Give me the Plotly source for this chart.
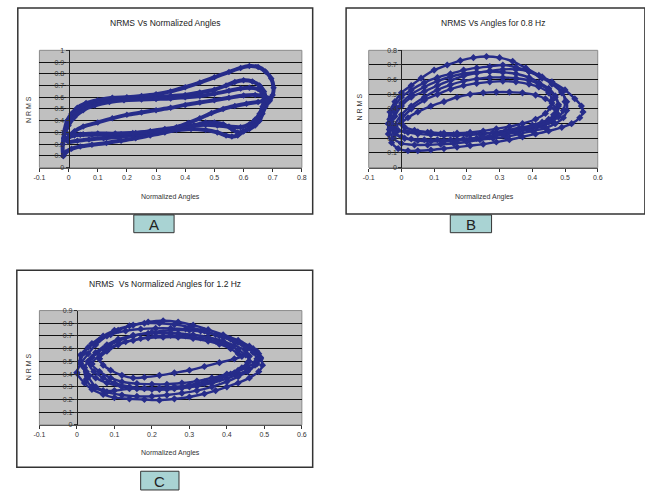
import plotly.graph_objects as go

# ---------------- data ----------------
# Panel A : NRMS vs Normalized Angles
A1_x = [-0.018,-0.02,-0.015,-0.005,0.01,0.03,0.06,0.10,0.15,0.20,0.25,0.30,0.35,0.40,0.45,0.50,0.55,0.59,0.62,0.65,0.675,0.695,0.703,0.70,0.69,0.675,0.665,0.655,0.64,0.62,0.60,0.58,0.56,0.53,0.50,0.47,0.43,0.38,0.33,0.28,0.23,0.18,0.13,0.08,0.04,0.01,-0.01,-0.018]
A1_y = [0.10,0.20,0.30,0.40,0.46,0.51,0.55,0.575,0.595,0.60,0.61,0.625,0.65,0.685,0.725,0.77,0.815,0.85,0.866,0.858,0.82,0.76,0.68,0.62,0.57,0.52,0.46,0.40,0.36,0.33,0.31,0.30,0.33,0.37,0.385,0.385,0.36,0.33,0.30,0.275,0.25,0.23,0.21,0.195,0.18,0.16,0.13,0.10]
A2_x = [-0.015,-0.01,0.0,0.02,0.05,0.09,0.14,0.19,0.25,0.30,0.35,0.40,0.45,0.50,0.54,0.57,0.60,0.63,0.655,0.67,0.675,0.67,0.66,0.645,0.625,0.60,0.58,0.56,0.54,0.51,0.47,0.42,0.37,0.32,0.27,0.22,0.17,0.12,0.07,0.03,0.0,-0.015]
A2_y = [0.25,0.33,0.40,0.46,0.51,0.545,0.57,0.585,0.59,0.60,0.61,0.62,0.64,0.665,0.70,0.73,0.745,0.735,0.70,0.65,0.59,0.53,0.46,0.40,0.35,0.31,0.275,0.265,0.275,0.30,0.32,0.33,0.32,0.31,0.29,0.275,0.26,0.25,0.24,0.23,0.22,0.25]
A3_x = [-0.01,0.0,0.02,0.05,0.09,0.14,0.19,0.25,0.30,0.35,0.40,0.45,0.50,0.55,0.59,0.62,0.65,0.665,0.67,0.665,0.655,0.64,0.62,0.59,0.55,0.51,0.47,0.43,0.38,0.33,0.28,0.23,0.18,0.13,0.08,0.04,0.01,-0.01]
A3_y = [0.30,0.36,0.43,0.49,0.53,0.56,0.575,0.58,0.585,0.59,0.60,0.61,0.63,0.655,0.675,0.68,0.67,0.63,0.58,0.52,0.46,0.41,0.37,0.345,0.35,0.36,0.365,0.36,0.345,0.33,0.31,0.295,0.285,0.28,0.28,0.28,0.285,0.30]
A4_x = [0.0,0.02,0.05,0.10,0.15,0.20,0.25,0.30,0.35,0.40,0.45,0.50,0.55,0.60,0.64,0.67,0.69,0.68,0.65,0.61,0.57,0.53,0.49,0.45,0.41,0.37,0.33,0.28,0.22,0.16,0.10,0.05,0.02,0.0]
A4_y = [0.26,0.31,0.35,0.385,0.42,0.45,0.47,0.49,0.51,0.535,0.555,0.575,0.595,0.615,0.62,0.61,0.59,0.575,0.56,0.545,0.525,0.50,0.465,0.42,0.38,0.345,0.32,0.305,0.295,0.29,0.29,0.285,0.275,0.26]

# Panel B : NRMS vs Angles for 0.8 Hz
B1_x = [-0.04,-0.035,-0.02,0.0,0.03,0.06,0.10,0.14,0.18,0.22,0.26,0.30,0.34,0.38,0.42,0.46,0.50,0.53,0.55,0.555,0.545,0.52,0.49,0.45,0.41,0.37,0.33,0.29,0.25,0.21,0.17,0.13,0.09,0.05,0.02,-0.01,-0.03,-0.04,-0.04]
B1_y = [0.30,0.38,0.45,0.51,0.56,0.61,0.665,0.70,0.73,0.75,0.758,0.75,0.725,0.68,0.63,0.585,0.53,0.47,0.42,0.38,0.34,0.30,0.275,0.25,0.23,0.21,0.19,0.175,0.16,0.15,0.14,0.13,0.12,0.115,0.115,0.13,0.17,0.23,0.30]
B2_x = [-0.035,-0.02,0.0,0.03,0.07,0.11,0.15,0.19,0.23,0.27,0.31,0.35,0.39,0.43,0.46,0.49,0.505,0.505,0.495,0.47,0.44,0.40,0.36,0.32,0.28,0.24,0.20,0.16,0.12,0.08,0.04,0.0,-0.025,-0.037,-0.035]
B2_y = [0.33,0.42,0.48,0.53,0.58,0.615,0.64,0.665,0.68,0.69,0.70,0.685,0.655,0.61,0.57,0.51,0.45,0.39,0.34,0.30,0.27,0.25,0.23,0.21,0.20,0.19,0.175,0.165,0.16,0.155,0.155,0.165,0.20,0.26,0.33]
B3_x = [-0.03,-0.02,0.0,0.03,0.07,0.11,0.15,0.19,0.23,0.27,0.31,0.35,0.39,0.42,0.45,0.47,0.48,0.475,0.46,0.43,0.39,0.35,0.31,0.27,0.23,0.19,0.15,0.11,0.07,0.03,0.0,-0.02,-0.03]
B3_y = [0.30,0.38,0.44,0.50,0.55,0.59,0.62,0.64,0.65,0.655,0.65,0.64,0.615,0.58,0.54,0.49,0.43,0.37,0.32,0.28,0.26,0.24,0.225,0.21,0.20,0.195,0.19,0.19,0.19,0.195,0.21,0.24,0.30]
B4_x = [-0.02,0.0,0.03,0.07,0.11,0.15,0.19,0.23,0.27,0.31,0.35,0.39,0.42,0.45,0.47,0.48,0.475,0.46,0.44,0.41,0.37,0.33,0.29,0.25,0.21,0.17,0.13,0.09,0.05,0.02,-0.01,-0.02]
B4_y = [0.28,0.36,0.42,0.48,0.53,0.565,0.59,0.605,0.615,0.615,0.61,0.595,0.57,0.53,0.48,0.42,0.37,0.33,0.30,0.28,0.265,0.25,0.24,0.23,0.225,0.22,0.22,0.225,0.23,0.24,0.255,0.28]
B5_x = [0.0,0.02,0.05,0.09,0.13,0.17,0.21,0.25,0.29,0.33,0.37,0.41,0.44,0.46,0.47,0.465,0.45,0.43,0.40,0.36,0.32,0.28,0.24,0.20,0.16,0.12,0.08,0.04,0.01,0.0]
B5_y = [0.30,0.34,0.38,0.42,0.45,0.48,0.50,0.51,0.515,0.515,0.51,0.495,0.47,0.44,0.40,0.36,0.33,0.31,0.29,0.27,0.255,0.24,0.23,0.225,0.225,0.23,0.24,0.255,0.275,0.30]
B6_x = [-0.03,-0.02,0.0,0.03,0.07,0.11,0.15,0.19,0.23,0.27,0.31,0.35,0.39,0.43,0.46,0.49,0.50,0.495,0.48,0.45,0.41,0.37,0.33,0.29,0.25,0.21,0.17,0.13,0.09,0.05,0.01,-0.02,-0.03]
B6_y = [0.27,0.35,0.42,0.48,0.52,0.56,0.595,0.625,0.645,0.66,0.67,0.67,0.655,0.62,0.58,0.52,0.45,0.39,0.345,0.31,0.285,0.265,0.245,0.225,0.21,0.195,0.185,0.18,0.18,0.185,0.20,0.23,0.27]
B7_x = [-0.02,0.0,0.03,0.07,0.11,0.15,0.19,0.23,0.27,0.31,0.35,0.39,0.42,0.45,0.46,0.455,0.44,0.41,0.37,0.33,0.29,0.25,0.21,0.17,0.13,0.09,0.05,0.01,-0.02]
B7_y = [0.25,0.33,0.40,0.46,0.50,0.535,0.56,0.575,0.585,0.59,0.585,0.57,0.55,0.51,0.46,0.41,0.37,0.33,0.30,0.28,0.265,0.25,0.24,0.235,0.235,0.24,0.245,0.25,0.25]

# Panel C : NRMS vs Normalized Angles for 1.2 Hz
C1_x = [0.0,0.01,0.03,0.05,0.08,0.11,0.15,0.19,0.23,0.27,0.31,0.35,0.39,0.43,0.46,0.48,0.49,0.495,0.485,0.46,0.43,0.40,0.37,0.34,0.30,0.26,0.22,0.18,0.14,0.10,0.07,0.04,0.02,0.0]
C1_y = [0.41,0.48,0.56,0.63,0.70,0.745,0.785,0.81,0.82,0.81,0.785,0.75,0.71,0.665,0.62,0.58,0.53,0.47,0.42,0.37,0.33,0.30,0.27,0.245,0.22,0.205,0.195,0.20,0.205,0.215,0.24,0.28,0.33,0.41]
C2_x = [0.01,0.03,0.06,0.09,0.13,0.17,0.21,0.25,0.29,0.33,0.37,0.41,0.44,0.47,0.485,0.49,0.48,0.46,0.43,0.40,0.36,0.32,0.28,0.24,0.20,0.16,0.12,0.08,0.05,0.025,0.01,0.01]
C2_y = [0.55,0.61,0.67,0.71,0.74,0.755,0.76,0.76,0.755,0.74,0.71,0.675,0.64,0.60,0.56,0.52,0.48,0.44,0.40,0.365,0.33,0.305,0.29,0.28,0.28,0.285,0.30,0.33,0.37,0.42,0.48,0.55]
C3_x = [0.03,0.05,0.08,0.11,0.15,0.19,0.23,0.27,0.31,0.35,0.39,0.42,0.45,0.46,0.455,0.44,0.41,0.38,0.34,0.30,0.26,0.22,0.18,0.14,0.10,0.07,0.045,0.03]
C3_y = [0.50,0.57,0.63,0.675,0.705,0.72,0.725,0.72,0.71,0.69,0.66,0.625,0.585,0.54,0.49,0.45,0.40,0.36,0.325,0.30,0.285,0.28,0.285,0.30,0.33,0.37,0.42,0.50]
C4_x = [0.06,0.08,0.11,0.15,0.19,0.23,0.27,0.31,0.35,0.38,0.41,0.43,0.44,0.42,0.38,0.34,0.30,0.26,0.22,0.18,0.15,0.12,0.09,0.07,0.06]
C4_y = [0.52,0.58,0.63,0.665,0.685,0.69,0.69,0.68,0.66,0.635,0.60,0.56,0.54,0.52,0.49,0.46,0.43,0.41,0.39,0.375,0.37,0.39,0.43,0.47,0.52]
C5_x = [0.02,0.04,0.07,0.11,0.15,0.20,0.25,0.30,0.35,0.39,0.43,0.46,0.48,0.485,0.475,0.45,0.42,0.38,0.34,0.30,0.26,0.22,0.18,0.14,0.10,0.07,0.04,0.025,0.02]
C5_y = [0.45,0.53,0.60,0.66,0.70,0.73,0.745,0.745,0.725,0.69,0.65,0.61,0.57,0.53,0.49,0.45,0.41,0.37,0.34,0.315,0.30,0.29,0.29,0.285,0.27,0.27,0.30,0.36,0.45]
C6_x = [0.01,0.02,0.04,0.07,0.10,0.14,0.18,0.22,0.26,0.30,0.34,0.38,0.42,0.45,0.47,0.48,0.475,0.455,0.43,0.40,0.36,0.32,0.28,0.24,0.20,0.16,0.12,0.08,0.05,0.03,0.01]
C6_y = [0.50,0.57,0.64,0.70,0.745,0.78,0.80,0.80,0.79,0.77,0.74,0.70,0.655,0.61,0.57,0.52,0.47,0.42,0.38,0.34,0.30,0.27,0.25,0.235,0.225,0.225,0.235,0.26,0.30,0.38,0.50]
C7_x = [0.04,0.06,0.09,0.13,0.17,0.21,0.25,0.29,0.33,0.37,0.40,0.43,0.45,0.46,0.45,0.43,0.40,0.36,0.32,0.28,0.24,0.20,0.16,0.12,0.09,0.06,0.04]
C7_y = [0.48,0.55,0.61,0.655,0.68,0.70,0.705,0.70,0.685,0.66,0.63,0.59,0.55,0.50,0.46,0.43,0.40,0.37,0.345,0.33,0.32,0.32,0.325,0.34,0.37,0.42,0.48]

A_ticks_x = [-0.1,0,0.1,0.2,0.3,0.4,0.5,0.6,0.7,0.8]
A_ticks_y = [0,0.1,0.2,0.3,0.4,0.5,0.6,0.7,0.8,0.9,1]
B_ticks_x = [-0.1,0,0.1,0.2,0.3,0.4,0.5,0.6]
B_ticks_y = [0,0.1,0.2,0.3,0.4,0.5,0.6,0.7,0.8]
C_ticks_x = [-0.1,0,0.1,0.2,0.3,0.4,0.5,0.6]
C_ticks_y = [0,0.1,0.2,0.3,0.4,0.5,0.6,0.7,0.8,0.9]

titles = ["NRMS Vs Normalized Angles", "NRMS Vs Angles for 0.8 Hz", "NRMS  Vs Normalized Angles for 1.2 Hz"]
x_title = "Normalized Angles"
y_title = "N R M S"
panel_labels = ["A", "B", "C"]

# ---------------- figure ----------------
W, H = 645, 491
def px(x): return x / W
def py(y): return 1 - y / H

def lab(v):
    return "%g" % v

NAVY = "#262C8A"
FONT = "Liberation Sans Narrow, Liberation Sans, Arial, sans-serif"

fig = go.Figure()

panels = [
    dict(cycles=[(A1_x, A1_y), (A2_x, A2_y), (A3_x, A3_y), (A4_x, A4_y)],
         xr=[-0.1, 0.8], yr=[0, 1], xt=A_ticks_x, yt=A_ticks_y,
         box=(34, 301, 47, 166), lw=4.0, ms=5),
    dict(cycles=[(B1_x, B1_y), (B2_x, B2_y), (B3_x, B3_y), (B4_x, B4_y), (B5_x, B5_y),
                 (B6_x, B6_y), (B7_x, B7_y)],
         xr=[-0.1, 0.6], yr=[0, 0.8], xt=B_ticks_x, yt=B_ticks_y,
         box=(369, 602, 47, 166), lw=2.4, ms=5.5),
    dict(cycles=[(C1_x, C1_y), (C2_x, C2_y), (C3_x, C3_y), (C4_x, C4_y), (C5_x, C5_y),
                 (C6_x, C6_y), (C7_x, C7_y)],
         xr=[-0.1, 0.6], yr=[0, 0.9], xt=C_ticks_x, yt=C_ticks_y,
         box=(34, 301, 311, 427), lw=2.4, ms=5.5),
]

layout_axes = {}
for i, p in enumerate(panels):
    n = i + 1
    xs = "" if n == 1 else str(n)
    x0, x1, y0, y1 = p["box"]
    for cx, cy in p["cycles"]:
        fig.add_trace(go.Scatter(
            x=cx, y=cy, mode="lines+markers", xaxis="x" + xs, yaxis="y" + xs,
            line=dict(color=NAVY, width=p["lw"], shape="spline", smoothing=0.8),
            marker=dict(symbol="diamond", size=p["ms"], color=NAVY),
            showlegend=False, hoverinfo="skip"))
    xr, yr = p["xr"], p["yr"]
    ypos_px = x0 + (0 - xr[0]) / (xr[1] - xr[0]) * (x1 - x0)
    layout_axes["xaxis" + xs] = dict(
        domain=[px(x0), px(x1)], range=xr, anchor="y" + xs,
        tickvals=p["xt"], ticktext=[lab(v) for v in p["xt"]],
        ticks="outside", ticklen=3, tickcolor="#333", showline=True,
        linecolor="#555", linewidth=1, showgrid=False, zeroline=False,
        tickfont=dict(family=FONT, size=7, color="#333"), fixedrange=True)
    layout_axes["yaxis" + xs] = dict(
        domain=[py(y1), py(y0)], range=yr, anchor="free", position=px(ypos_px),
        tickvals=p["yt"], ticktext=[lab(v) for v in p["yt"]],
        ticks="outside", ticklen=3, tickcolor="#333", showline=True,
        linecolor="#222", linewidth=1, showgrid=True, gridcolor="#111",
        gridwidth=1, zeroline=False,
        tickfont=dict(family=FONT, size=7, color="#333"), fixedrange=True)

shapes = []
for p in panels:
    x0, x1, y0, y1 = p["box"]
    shapes.append(dict(type="rect", xref="paper", yref="paper",
                       x0=px(x0), x1=px(x1), y0=py(y1), y1=py(y0),
                       line=dict(color="#8a8a8a", width=1), layer="below"))
frames = [(12, 312, 4, 213), (346, 650, 4, 213), (11, 312, 270, 470)]
for f in frames:
    shapes.append(dict(type="rect", xref="paper", yref="paper",
                       x0=px(f[0]), x1=px(f[1]), y0=py(f[3]), y1=py(f[2]),
                       line=dict(color="#333", width=1.5)))
lboxes = [(130, 171, 214, 232), (452, 494, 214, 232), (137, 176, 474, 493)]
for b in lboxes:
    shapes.append(dict(type="rect", xref="paper", yref="paper",
                       x0=px(b[0]), x1=px(b[1]), y0=py(b[3]), y1=py(b[2]),
                       line=dict(color="#333", width=1), fillcolor="#A9D3D3"))

ann = []
title_pos = [(162, 19), (495, 19), (162, 284)]
xt_pos = [(167, 196), (487, 196), (167, 455)]
yt_pos = [(23, 107), (360, 104), (23, 368)]
common = dict(xref="paper", yref="paper", showarrow=False, xanchor="center", yanchor="middle")
for i in range(3):
    ann.append(dict(text=titles[i], x=px(title_pos[i][0]), y=py(title_pos[i][1]),
                    font=dict(family=FONT, size=8.5, color="#222"), **common))
    ann.append(dict(text=x_title, x=px(xt_pos[i][0]), y=py(xt_pos[i][1]),
                    font=dict(family=FONT, size=7, color="#333"), **common))
    ann.append(dict(text=y_title, x=px(yt_pos[i][0]), y=py(yt_pos[i][1]), textangle=-90,
                    font=dict(family=FONT, size=7, color="#333"), **common))
    bx = lboxes[i]
    ann.append(dict(text=panel_labels[i], x=px((bx[0] + bx[1]) / 2),
                    y=py((bx[2] + bx[3]) / 2 + 0.5),
                    font=dict(family="Liberation Sans, Arial, sans-serif", size=15, color="#222"),
                    **common))

fig.update_layout(
    width=W, height=H, margin=dict(l=0, r=0, t=0, b=0),
    paper_bgcolor="white", plot_bgcolor="#C0C0C0",
    shapes=shapes, annotations=ann, **layout_axes)

fig.write_html("out.html", config={"displayModeBar": False},
               post_script="document.body.style.margin='0';document.body.style.overflow='hidden';")
